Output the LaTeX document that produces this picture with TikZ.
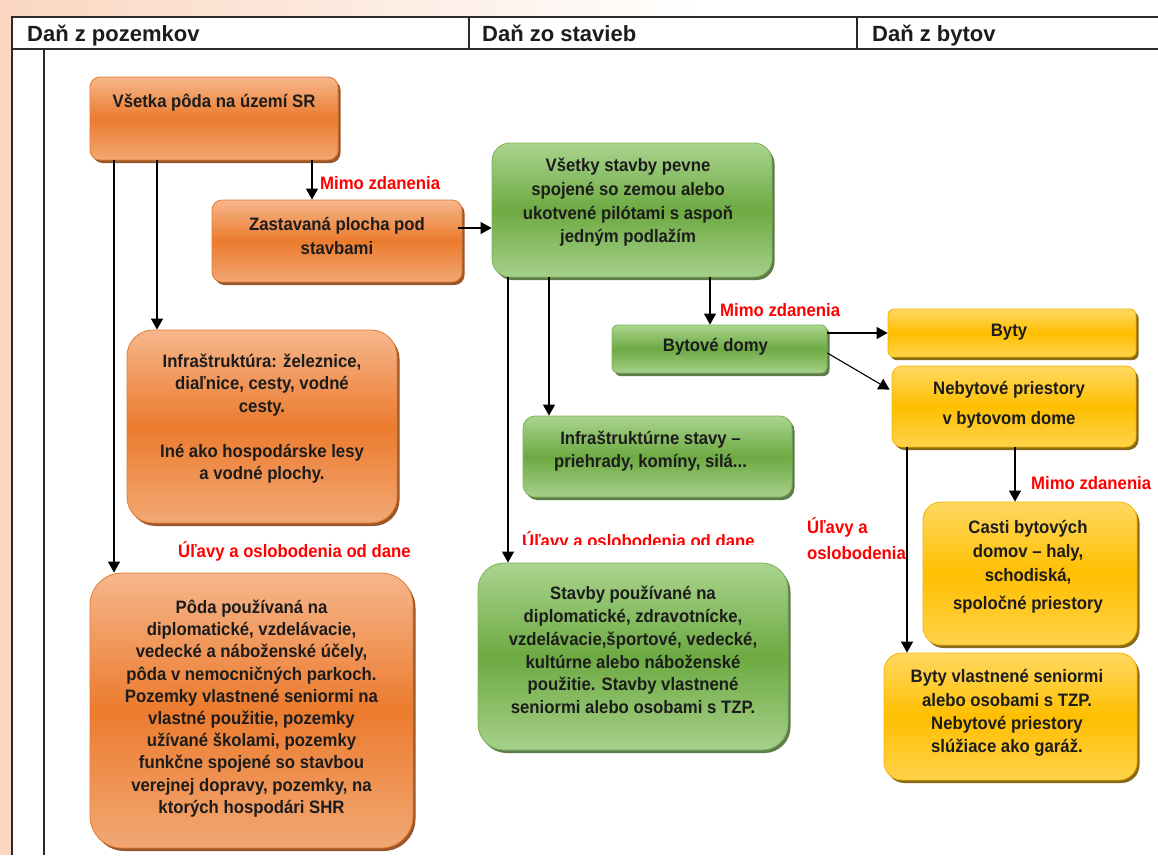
\documentclass[tikz,border=0pt]{standalone}
\usepackage{fontspec}
\setmainfont{Liberation Sans}
\newfontfamily\condfont{Liberation Sans}[FakeStretch=0.93]
\usetikzlibrary{arrows.meta,shadows}

\definecolor{peach}{HTML}{FBD6C0}
\definecolor{ink}{HTML}{1C1C1C}
\definecolor{rule}{HTML}{2A2A2A}
\definecolor{orTop}{HTML}{F6B68C}
\definecolor{orMid}{HTML}{EC7B2E}
\definecolor{orBot}{HTML}{F2A874}
\definecolor{orEdge}{HTML}{E47A2E}
\definecolor{orShadow}{HTML}{8E4514}
\definecolor{grTop}{HTML}{AAD48E}
\definecolor{grMid}{HTML}{6DAA42}
\definecolor{grBot}{HTML}{A6D08A}
\definecolor{grEdge}{HTML}{7DB35A}
\definecolor{grShadow}{HTML}{4D6E35}
\definecolor{yeTop}{HTML}{FFD862}
\definecolor{yeMid}{HTML}{FFBF00}
\definecolor{yeBot}{HTML}{FFD24A}
\definecolor{yeEdge}{HTML}{F2B600}
\definecolor{yeShadow}{HTML}{7A5C00}

\begin{document}
\begin{tikzpicture}[x=1pt,y=-1pt,
  boxbase/.style={inner sep=0pt, line width=0.8pt},
  obox/.style={boxbase, rounded corners=#1, draw=orEdge,
    top color=orTop, bottom color=orBot, middle color=orMid,
    drop shadow={shadow xshift=2.5pt, shadow yshift=-3pt, fill=orShadow, opacity=.9}},
  gbox/.style={boxbase, rounded corners=#1, draw=grEdge,
    top color=grTop, bottom color=grBot, middle color=grMid,
    drop shadow={shadow xshift=2.5pt, shadow yshift=-3pt, fill=grShadow, opacity=.9}},
  ybox/.style={boxbase, rounded corners=#1, draw=yeEdge,
    top color=yeTop, bottom color=yeBot, middle color=yeMid,
    drop shadow={shadow xshift=2.5pt, shadow yshift=-3pt, fill=yeShadow, opacity=.9}},
  txt/.style={font=\condfont\bfseries\fontsize{18}{#1}\selectfont,
    align=center, text=ink, inner sep=0pt},
  txt/.default=22.5,
  lab/.style={font=\condfont\bfseries\fontsize{18}{26}\selectfont,
    text=red, inner sep=0pt},
  hdr/.style={font=\bfseries\fontsize{22}{26}\selectfont, text=ink,
    anchor=base west, inner sep=0pt},
  tbl/.style={draw=rule, line width=1.4pt},
  arr/.style={-{Triangle[length=11pt,width=12pt]}, line width=1.1pt, black}
]
\useasboundingbox (0,0) rectangle (1158,855);

% backdrop around the table
\fill[white] (0,0) rectangle (1158,855);
\fill[peach] (0,0) rectangle (12,855);
\shade[left color=peach, right color=white] (0,0) rectangle (700,17);

% table frame
\draw[tbl] (1158,17) -- (12,17) -- (12,855);
\draw[tbl] (12,49) -- (1158,49);
\draw[tbl] (44,49) -- (44,855);
\draw[tbl] (469,17) -- (469,49);
\draw[tbl] (857,17) -- (857,49);

% column headers
\node[hdr] (hLand)  at (27,41)  {Daň z pozemkov};
\node[hdr] (hBuild) at (482,41) {Daň zo stavieb};
\node[hdr] (hFlat)  at (872,41) {Daň z bytov};

% land tax boxes
\node[obox=10pt, minimum width=248pt, minimum height=83pt]  (soil)  at (214,118.5) {};
\node[obox=10pt, minimum width=250pt, minimum height=82pt]  (zast)  at (337,241)   {};
\node[obox=26pt, minimum width=270pt, minimum height=193pt] (infra) at (262,426.5) {};
\node[obox=32pt, minimum width=323pt, minimum height=275pt] (poda)  at (251.5,710.5) {};

% building tax boxes
\node[gbox=18pt, minimum width=280pt, minimum height=134pt] (stav)  at (632,210)   {};
\node[gbox=6pt,  minimum width=215pt, minimum height=48pt]  (bdom)  at (719.5,349) {};
\node[gbox=12pt, minimum width=269pt, minimum height=81pt]  (infst) at (657.5,456.5) {};
\node[gbox=26pt, minimum width=310pt, minimum height=187pt] (uziv)  at (633,656.5) {};

% flat tax boxes
\node[ybox=6pt,  minimum width=248pt, minimum height=48pt]  (byty)  at (1012,333)   {};
\node[ybox=10pt, minimum width=244pt, minimum height=81pt]  (nebyt) at (1014,406.5) {};
\node[ybox=18pt, minimum width=214pt, minimum height=143pt] (casti) at (1030,573.5) {};
\node[ybox=18pt, minimum width=253pt, minimum height=127pt] (bvl)   at (1010.5,716.5) {};

% box texts
\node[txt] (soilT) at ([yshift=15.5pt]soil.center) {Všetka pôda na území SR};
\node[txt=24] (zastT) at ([yshift=5pt]zast.center) {Zastavaná plocha pod\\stavbami};
\node[txt] (infraT) at ([yshift=8pt]infra.center)
  {Infraštruktúra: železnice,\\diaľnice, cesty, vodné\\cesty.\\[22.5pt]Iné ako hospodárske lesy\\a vodné plochy.};
\node[txt=22.2] (podaT) at ([yshift=2pt]poda.center)
  {Pôda používaná na\\diplomatické, vzdelávacie,\\vedecké a náboženské účely,\\pôda v nemocničných parkoch.\\Pozemky vlastnené seniormi na\\vlastné použitie, pozemky\\užívané školami, pozemky\\funkčne spojené so stavbou\\verejnej dopravy, pozemky, na\\ktorých hospodári SHR};
\node[txt=23.7] (stavT) at ([xshift=-4pt,yshift=7.5pt]stav.center)
  {Všetky stavby pevne\\spojené so zemou alebo\\ukotvené pilótami s aspoň\\jedným podlažím};
\node[txt] (bdomT) at ([xshift=-4pt,yshift=2pt]bdom.center) {Bytové domy};
\node[txt=23] (infstT) at ([xshift=-7pt,yshift=5pt]infst.center)
  {Infraštruktúrne stavy –\\priehrady, komíny, silá...};
\node[txt=22.8] (uzivT) at ([yshift=6.5pt]uziv.center)
  {Stavby používané na\\diplomatické, zdravotnícke,\\vzdelávacie,športové, vedecké,\\kultúrne alebo náboženské\\použitie. Stavby vlastnené\\seniormi alebo osobami s TZP.};
\node[txt] (bytyT) at ([xshift=-3pt,yshift=1pt]byty.center) {Byty};
\node[txt=30] (nebytT) at ([xshift=-5pt,yshift=1.5pt]nebyt.center) {Nebytové priestory\\v bytovom dome};
\node[txt=24] (castiT) at ([xshift=-2pt,yshift=6.5pt]casti.center)
  {Casti bytových\\domov – haly,\\schodiská,\\[4pt]spoločné priestory};
\node[txt=23.3] (bvlT) at ([xshift=-3.5pt,yshift=3.5pt]bvl.center)
  {Byty vlastnené seniormi\\alebo osobami s TZP.\\Nebytové priestory\\slúžiace ako garáž.};

% connector positions
\coordinate (xZast) at (312,0);
\coordinate (xPoda) at (114,0);
\coordinate (xInfra) at (157,0);
\coordinate (yLink) at (0,228);
\coordinate (xBdom) at (710,0);
\coordinate (xInfst) at (549,0);
\coordinate (xUziv) at (508,0);
\coordinate (xCasti) at (1015,0);
\coordinate (xBvl) at (907,0);

% connectors
\draw[arr] (soil.south -| xZast) -- (zast.north -| xZast);
\draw[arr] (soil.south -| xPoda) -- (poda.north -| xPoda);
\draw[arr] (soil.south -| xInfra) -- (infra.north -| xInfra);
\draw[arr] ([xshift=-4pt]zast.east |- yLink) -- (stav.west |- yLink);
\draw[arr] (stav.south -| xBdom) -- (bdom.north -| xBdom);
\draw[arr] (stav.south -| xInfst) -- (infst.north -| xInfst);
\draw[arr] (stav.south -| xUziv) -- (uziv.north -| xUziv);
\draw[arr] (bdom.east |- byty.west) -- (byty.west);
\draw[arr] ([yshift=-4pt]bdom.east) -- ([xshift=-2pt,yshift=-24pt]nebyt.north west);
\draw[arr] (nebyt.south -| xCasti) -- (casti.north -| xCasti);
\draw[arr] (nebyt.south -| xBvl) -- (bvl.north -| xBvl);

% connector labels
\node[lab, anchor=west] (mz1) at (320,183) {Mimo zdanenia};
\node[lab, anchor=west] (mz2) at (720,310) {Mimo zdanenia};
\node[lab, anchor=west] (mz3) at (1031,483) {Mimo zdanenia};
\node[lab, anchor=west] (ul1) at (178,551) {Úľavy a oslobodenia od dane};
\begin{scope}
  \clip (500,520) rectangle (780,544.5);
  \node[lab, anchor=base west] (ul2) at (522,547) {Úľavy a oslobodenia od dane};
\end{scope}
\node[lab, anchor=west, align=left] (ul3) at (807,539) {Úľavy a\\oslobodenia};
\end{tikzpicture}
\end{document}
